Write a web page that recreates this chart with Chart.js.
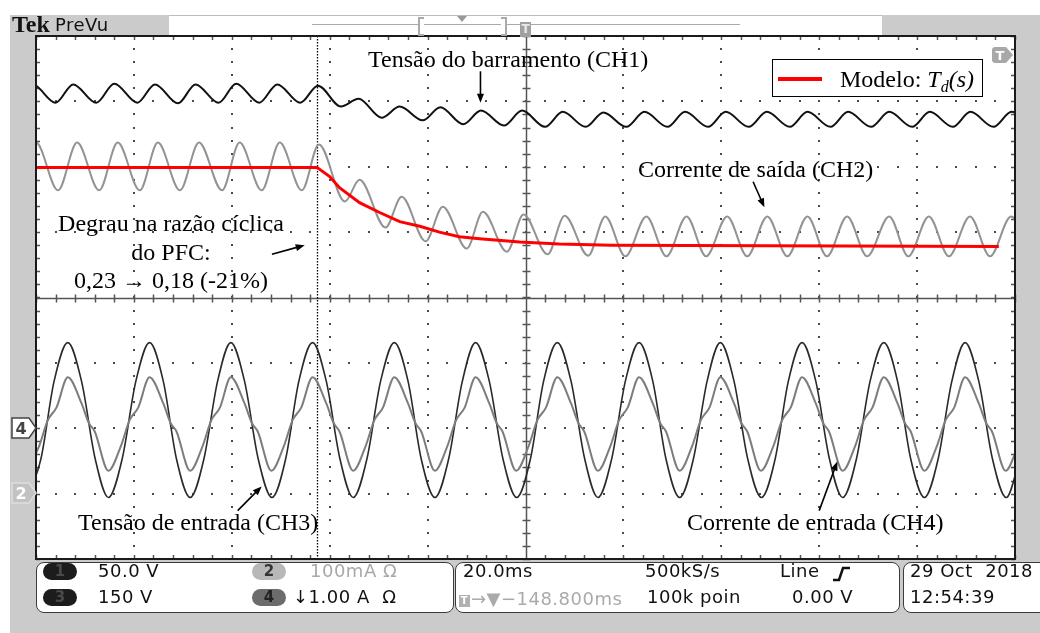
<!DOCTYPE html>
<html>
<head>
<meta charset="utf-8">
<script src="https://cdn.jsdelivr.net/npm/chart.js@4.4.1/dist/chart.umd.min.js"></script>
<style>
  html, body { margin: 0; padding: 0; background: #fff; }
  #wrap { position: relative; width: 1040px; height: 633px; overflow: hidden; background: #fff; }
  .bg { position: absolute; left: 10px; top: 15px; width: 1030px; height: 618px; background: #cbcbcb; }
  canvas { position: absolute; left: 0; top: 0; }
  .abs { position: absolute; }
  .ann { position: absolute; font-family: "Liberation Serif", "Times New Roman", serif; font-size: 24px; line-height: 24px; color: #000; white-space: nowrap; }
  .tek { position: absolute; font-family: "DejaVu Sans", sans-serif; font-size: 18px; line-height: 18px; letter-spacing: 0.5px; color: #111; white-space: nowrap; }
  .panel { position: absolute; top: 562px; height: 51px; background: #fff; border: 1.5px solid #3c3c3c; border-radius: 8px; box-sizing: border-box; }
  .oval { position: absolute; width: 34px; height: 17px; border-radius: 9px; text-align: center; font: bold 15px/17px "DejaVu Sans", sans-serif; }
  .tbox { display: inline-block; width: 11px; height: 12px; background: #b0b0b0; color: #fff; font: bold 10px/12px "DejaVu Sans", sans-serif; text-align: center; vertical-align: 1px; margin-right: 1px; }
</style>
</head>
<body>
<div id="wrap">
  <div class="bg"></div>
  <canvas id="scope" width="1040" height="633"></canvas>

  <!-- cabeçalho do osciloscópio -->
  <div class="abs" style="left:169px;top:15px;width:713px;height:20px;background:#fff;border-top:1px solid #bbb;box-sizing:border-box;"></div>
  <div class="abs" style="left:12px;top:12px;font:bold 24px/24px 'Liberation Serif',serif;color:#111;">Tek</div>
  <div class="tek" style="left:55px;top:16px;">PreVu</div>
  <div class="abs" style="left:312px;top:24px;width:428px;height:1px;background:#aaa;"></div>
  <div class="abs" style="left:418px;top:17px;width:4px;height:15px;border:2px solid #aaa;border-right:none;background:#fff;"></div>
  <div class="abs" style="left:501px;top:17px;width:4px;height:15px;border:2px solid #aaa;border-left:none;background:#fff;"></div>
  <div class="abs" style="left:457px;top:16px;width:0;height:0;border-left:5px solid transparent;border-right:5px solid transparent;border-top:6px solid #999;"></div>
  <div class="abs" style="left:520px;top:22px;width:11px;height:15px;background:#a0a0a0;color:#e8e8e8;font:bold 12px/15px 'DejaVu Sans',sans-serif;text-align:center;">T</div>

  <!-- marcadores de canal e de disparo -->
  <svg class="abs" style="left:11px;top:417px" width="27" height="23">
    <polygon points="1,1 18,1 25,11 18,21 1,21" fill="#fff" stroke="#444" stroke-width="1.5"/>
    <text x="10" y="17" text-anchor="middle" font-family="DejaVu Sans" font-weight="bold" font-size="16" fill="#444">4</text>
  </svg>
  <svg class="abs" style="left:11px;top:482px" width="27" height="23">
    <polygon points="1,1 18,1 25,11 18,21 1,21" fill="#c2c2c2" stroke="#dedede" stroke-width="1.5"/>
    <text x="10" y="17" text-anchor="middle" font-family="DejaVu Sans" font-weight="bold" font-size="16" fill="#fff">2</text>
  </svg>
  <svg class="abs" style="left:991px;top:46px" width="24" height="18">
    <polygon points="3,1 15,1 22,9 15,17 3,17 1,15 1,3" fill="#a8a8a8"/>
    <text x="9" y="14" text-anchor="middle" font-family="DejaVu Sans" font-weight="bold" font-size="13" fill="#fff">T</text>
  </svg>

  <!-- anotações -->
  <div class="ann" style="left:368px;top:47px;">Tensão do barramento (CH1)</div>
  <div class="ann" style="left:638px;top:157px;">Corrente de saída (CH2)</div>
  <div class="ann" style="left:40px;top:209px;width:262px;text-align:center;line-height:28.5px;">Degrau na razão cíclica<br>do PFC:<br>0,23 → 0,18 (-21%)</div>
  <div class="ann" style="left:78px;top:510px;">Tensão de entrada (CH3)</div>
  <div class="ann" style="left:687px;top:510px;">Corrente de entrada (CH4)</div>

  <!-- legenda -->
  <div class="abs" style="left:772px;top:59px;width:211px;height:38px;border:1.5px solid #000;background:#fff;box-sizing:border-box;"></div>
  <div class="abs" style="left:778px;top:77px;width:44px;height:4px;background:#ff0000;"></div>
  <div class="ann" style="left:840px;top:67px;">Modelo: <i>T</i><sub style="font-size:16px;font-style:italic;vertical-align:-5px;">d</sub><i>(s)</i></div>

  <!-- painéis inferiores -->
  <div class="panel" style="left:36px;width:418px;"></div>
  <div class="panel" style="left:455px;width:445px;"></div>
  <div class="panel" style="left:903px;width:170px;"></div>

  <div class="oval" style="left:43px;top:563px;background:#1c1c1c;color:#4a4a4a;">1</div>
  <div class="oval" style="left:43px;top:589px;background:#1c1c1c;color:#4a4a4a;">3</div>
  <div class="oval" style="left:252px;top:563px;background:#b8b8b8;color:#333;">2</div>
  <div class="oval" style="left:252px;top:589px;background:#6c6c6c;color:#222;">4</div>
  <div class="tek" style="left:98px;top:562px;">50.0 V</div>
  <div class="tek" style="left:98px;top:588px;">150 V</div>
  <div class="tek" style="left:310px;top:562px;color:#a8a8a8;">100mA Ω</div>
  <div class="tek" style="left:293px;top:588px;">↓1.00 A&nbsp; Ω</div>

  <div class="tek" style="left:463px;top:562px;">20.0ms</div>
  <div class="tek" style="left:645px;top:562px;">500kS/s</div>
  <div class="tek" style="left:780px;top:562px;">Line</div>
  <svg class="abs" style="left:831px;top:565px" width="22" height="18">
    <polyline points="2,15 8,15 12,3 19,3" fill="none" stroke="#111" stroke-width="2.5"/>
  </svg>
  <div class="tek" style="left:459px;top:590px;color:#aaa;"><span class="tbox">T</span>→▼−148.800ms</div>
  <div class="tek" style="left:647px;top:588px;">100k poin</div>
  <div class="tek" style="left:792px;top:588px;">0.00 V</div>

  <div class="tek" style="left:910px;top:562px;">29 Oct&nbsp; 2018</div>
  <div class="tek" style="left:910px;top:588px;">12:54:39</div>
</div>

<script>
// Eixos: tempo em ms (20 ms/div), amplitude em divisões
const gridTimes = [0, 20, 40, 60, 80, 100, 120, 140, 160, 180, 200];
const gridDivs = [-4, -3, -2, -1, 0, 1, 2, 3, 4];
const stepTime = 57.5; // instante do degrau na razão cíclica

// CH1 - tensão do barramento (picos e vales do ripple de 120 Hz)
const ch1Time = [-4.3, -0.7, 4.0, 7.6, 12.3, 16.0, 20.7, 24.3, 29.0, 32.6, 37.3, 40.9, 45.6, 49.3, 54.0,
    57.6, 62.3, 65.9, 70.6, 74.3, 79.0, 82.6, 87.3, 90.9, 95.6, 99.3, 104.0, 107.6, 112.3, 115.9, 120.6,
    124.3, 129.0, 132.6, 137.3, 140.9, 145.6, 149.3, 154.0, 157.6, 162.3, 165.9, 170.6, 174.3, 179.0,
    182.6, 187.3, 190.9, 195.6, 199.3, 204.0];
const ch1Volt = [2.98, 3.26, 2.98, 3.26, 2.98, 3.27, 2.98, 3.26, 2.97, 3.26, 2.98, 3.27, 2.98, 3.26, 2.98,
    3.24, 2.92, 3.04, 2.75, 2.92, 2.71, 2.91, 2.65, 2.86, 2.63, 2.86, 2.61, 2.84, 2.61, 2.83, 2.61,
    2.84, 2.61, 2.84, 2.61, 2.84, 2.61, 2.84, 2.61, 2.84, 2.61, 2.84, 2.61, 2.84, 2.61,
    2.84, 2.61, 2.84, 2.61, 2.84, 2.61];

// CH2 - corrente de saída
const ch2Time = [-4.0, 0.0, 4.5, 8.4, 12.9, 16.7, 21.2, 24.9, 29.4, 33.3, 38.0, 41.6, 46.1, 49.8, 54.3,
    57.8, 63.1, 66.1, 71.4, 74.7, 79.6, 83.1, 88.0, 91.3, 96.2, 99.6, 104.5, 108.0, 112.8,
    116.3, 120.4, 124.7, 128.8, 132.9, 136.9, 141.2, 145.3, 149.4, 153.5, 157.6, 161.6, 165.7, 169.8,
    174.3, 178.2, 182.4, 186.5, 190.8, 194.9, 199.2, 203.3];
const ch2Curr = [1.64, 2.37, 1.64, 2.37, 1.64, 2.37, 1.64, 2.37, 1.64, 2.37, 1.64, 2.37, 1.64, 2.37, 1.64,
    2.34, 1.47, 1.80, 1.07, 1.54, 0.86, 1.39, 0.75, 1.31, 0.70, 1.27, 0.66, 1.25, 0.64,
    1.24, 0.63, 1.24, 0.63, 1.24, 0.63, 1.24, 0.63, 1.24, 0.63, 1.24, 0.63, 1.24, 0.63,
    1.24, 0.63, 1.24, 0.63, 1.24, 0.63, 1.24, 0.63];

// Modelo Td(s)
const modelTime = [0, 57.4, 60.0, 62.0, 66.1, 70.2, 74.3, 78.4, 82.4, 86.5, 90.6, 98.8, 106.9, 117.6, 196.7];
const modelCurr = [1.99, 1.99, 1.85, 1.68, 1.45, 1.30, 1.16, 1.09, 1.00, 0.93, 0.90, 0.85, 0.82, 0.80, 0.78];

// CH3 - tensão de entrada (60 Hz)
const ch3Time = [-1.8, 1.0, 3.7, 6.5, 9.3, 12.1, 14.8, 17.6, 20.4, 23.2, 26.0, 28.7, 31.5, 34.3, 37.1,
    39.8, 42.6, 45.4, 48.2, 51.0, 53.7, 56.5, 59.3, 62.1, 64.8, 67.6, 70.4, 73.2, 76.0, 78.7,
    81.5, 84.3, 87.1, 89.8, 92.6, 95.4, 98.2, 101.0, 103.7, 106.5, 109.3, 112.1, 114.8, 117.6, 120.4,
    123.2, 126.0, 128.7, 131.5, 134.3, 137.1, 139.8, 142.6, 145.4, 148.2, 151.0, 153.7, 156.5, 159.3,
    162.1, 164.8, 167.6, 170.4, 173.2, 176.0, 178.7, 181.5, 184.3, 187.1, 189.8, 192.6, 195.4, 198.2, 201.0];
const ch3Volt = [-3.06, -2.47, -1.28, -0.69, -1.28, -2.47, -3.06, -2.47, -1.28, -0.69, -1.28, -2.47, -3.06, -2.47, -1.28,
    -0.69, -1.28, -2.47, -3.06, -2.47, -1.28, -0.69, -1.28, -2.47, -3.06, -2.47, -1.28, -0.69, -1.28, -2.47,
    -3.06, -2.47, -1.28, -0.69, -1.28, -2.47, -3.06, -2.47, -1.28, -0.69, -1.28, -2.47, -3.06, -2.47, -1.28,
    -0.69, -1.28, -2.47, -3.06, -2.47, -1.28, -0.69, -1.28, -2.47, -3.06, -2.47, -1.28, -0.69, -1.28,
    -2.47, -3.06, -2.47, -1.28, -0.69, -1.28, -2.47, -3.06, -2.47, -1.28, -0.69, -1.28, -2.47, -3.06, -2.47];

// CH4 - corrente de entrada
const ch4Time = [-1.9, 0.6, 2.4, 4.2,
    6.5, 9.3, 10.8, 12.0, 14.8, 17.3, 19.1, 20.9,
    23.2, 26.0, 27.5, 28.7, 31.5, 34.0, 35.8, 37.6,
    39.8, 42.6, 44.1, 45.3, 48.1, 50.6, 52.4, 54.2,
    56.5, 59.3, 60.8, 62.0, 64.8, 67.3, 69.1, 70.9,
    73.2, 76.0, 77.5, 78.7, 81.5, 84.0, 85.8, 87.6,
    89.8, 92.6, 94.1, 95.3, 98.1, 100.6, 102.4, 104.2,
    106.5, 109.3, 110.8, 112.0, 114.8, 117.3, 119.1, 120.9,
    123.2, 126.0, 127.5, 128.7, 131.5, 134.0, 135.8, 137.6,
    139.8, 142.6, 144.1, 145.3, 148.1, 150.6, 152.4, 154.2,
    156.5, 159.3, 160.8, 162.0, 164.8, 167.3, 169.1, 170.9,
    173.2, 176.0, 177.5, 178.7, 181.5, 184.0, 185.8, 187.6,
    189.8, 192.6, 194.1, 195.3, 198.1, 200.6];
const ch4Curr = [-2.65, -2.28, -1.88, -1.68,
    -1.22, -1.62, -1.92, -2.05, -2.65, -2.28, -1.88, -1.68,
    -1.22, -1.62, -1.92, -2.05, -2.65, -2.28, -1.88, -1.68,
    -1.22, -1.62, -1.92, -2.05, -2.65, -2.28, -1.88, -1.68,
    -1.22, -1.62, -1.92, -2.05, -2.65, -2.28, -1.88, -1.68,
    -1.22, -1.62, -1.92, -2.05, -2.65, -2.28, -1.88, -1.68,
    -1.22, -1.62, -1.92, -2.05, -2.65, -2.28, -1.88, -1.68,
    -1.22, -1.62, -1.92, -2.05, -2.65, -2.28, -1.88, -1.68,
    -1.22, -1.62, -1.92, -2.05, -2.65, -2.28, -1.88, -1.68,
    -1.22, -1.62, -1.92, -2.05, -2.65, -2.28, -1.88, -1.68,
    -1.22, -1.62, -1.92, -2.05, -2.65, -2.28, -1.88, -1.68,
    -1.22, -1.62, -1.92, -2.05, -2.65, -2.28, -1.88, -1.68,
    -1.22, -1.62, -1.92, -2.05, -2.65, -2.28];

// Setas das anotações: [t0, v0, t1, v1] (ponta em t1, v1)
const arrows = [
    [90.8, 3.46, 90.8, 2.98],
    [146.5, 1.77, 148.8, 1.38],
    [48.2, 0.66, 54.9, 0.80],
    [41.2, -3.26, 46.1, -2.89],
    [160.0, -3.26, 163.7, -2.51]
];

const pts = (ts, vs) => ts.map((t, i) => ({ x: t, y: vs[i] }));

function drawArrow(ctx, x0, y0, x1, y1) {
    const ang = Math.atan2(y1 - y0, x1 - x0);
    const head = 9, half = 3.5;
    ctx.beginPath();
    ctx.moveTo(x0, y0);
    ctx.lineTo(x1 - Math.cos(ang) * head * 0.7, y1 - Math.sin(ang) * head * 0.7);
    ctx.stroke();
    ctx.beginPath();
    ctx.moveTo(x1, y1);
    ctx.lineTo(x1 - head * Math.cos(ang) + half * Math.sin(ang), y1 - head * Math.sin(ang) - half * Math.cos(ang));
    ctx.lineTo(x1 - head * Math.cos(ang) - half * Math.sin(ang), y1 - head * Math.sin(ang) + half * Math.cos(ang));
    ctx.closePath();
    ctx.fill();
}

// Grade estilo Tektronix (pontos, cruz central com marcas, moldura)
const scopeGrid = {
    id: 'scopeGrid',
    beforeDatasetsDraw(chart) {
        const { ctx, chartArea: a, scales: { x, y } } = chart;
        ctx.save();
        ctx.fillStyle = '#fff';
        ctx.fillRect(a.left, a.top, a.right - a.left, a.bottom - a.top);

        const minorX = [], minorY = [];
        for (let t = 0; t <= 200.001; t += 4) minorX.push(Math.round(x.getPixelForValue(t)));
        for (let v = -4; v <= 4.001; v += 0.2) minorY.push(Math.round(y.getPixelForValue(v)));

        ctx.fillStyle = '#4a4a4a';
        gridTimes.forEach(t => {
            if (t === 0 || t === 200 || t === 100) return;
            const px = Math.round(x.getPixelForValue(t));
            minorY.forEach(py => ctx.fillRect(px - 1, py - 1, 2, 2));
        });
        gridDivs.forEach(v => {
            if (v === -4 || v === 4 || v === 0) return;
            const py = Math.round(y.getPixelForValue(v));
            minorX.forEach(px => ctx.fillRect(px - 1, py - 1, 2, 2));
        });

        // cruz central
        const cx = Math.round(x.getPixelForValue(100)) + 0.5;
        const cy = Math.round(y.getPixelForValue(0)) + 0.5;
        ctx.strokeStyle = '#555';
        ctx.lineWidth = 1.5;
        ctx.beginPath();
        ctx.moveTo(a.left, cy); ctx.lineTo(a.right, cy);
        ctx.moveTo(cx, a.top); ctx.lineTo(cx, a.bottom);
        minorX.forEach(px => { ctx.moveTo(px + 0.5, cy - 4); ctx.lineTo(px + 0.5, cy + 4); });
        minorY.forEach(py => { ctx.moveTo(cx - 4, py + 0.5); ctx.lineTo(cx + 4, py + 0.5); });
        // marcas na moldura
        minorX.forEach(px => {
            ctx.moveTo(px + 0.5, a.top); ctx.lineTo(px + 0.5, a.top + 4);
            ctx.moveTo(px + 0.5, a.bottom); ctx.lineTo(px + 0.5, a.bottom - 4);
        });
        minorY.forEach(py => {
            ctx.moveTo(a.left, py + 0.5); ctx.lineTo(a.left + 4, py + 0.5);
            ctx.moveTo(a.right, py + 0.5); ctx.lineTo(a.right - 4, py + 0.5);
        });
        ctx.stroke();

        // linha pontilhada do degrau
        const sx = Math.round(x.getPixelForValue(stepTime)) + 0.5;
        ctx.strokeStyle = '#000';
        ctx.lineWidth = 1.3;
        ctx.setLineDash([1.5, 1.5]);
        ctx.beginPath();
        ctx.moveTo(sx, a.top); ctx.lineTo(sx, a.bottom);
        ctx.stroke();
        ctx.restore();
    },
    afterDatasetsDraw(chart) {
        const { ctx, scales: { x, y } } = chart;
        ctx.save();
        ctx.strokeStyle = '#000';
        ctx.fillStyle = '#000';
        ctx.lineWidth = 1.6;
        arrows.forEach(([t0, v0, t1, v1]) => {
            drawArrow(ctx, x.getPixelForValue(t0), y.getPixelForValue(v0),
                x.getPixelForValue(t1), y.getPixelForValue(v1));
        });
        ctx.restore();
    },
    afterDraw(chart) {
        const { ctx, chartArea: a } = chart;
        ctx.save();
        ctx.strokeStyle = '#1a1a1a';
        ctx.lineWidth = 2;
        ctx.strokeRect(a.left, a.top, a.right - a.left, a.bottom - a.top);
        ctx.restore();
    }
};

const scope = document.getElementById('scope');
if (scope) {
    new Chart(scope, {
        type: 'line',
        data: {
            datasets: [
                {
                    label: 'Modelo: Td(s)',
                    data: pts(modelTime, modelCurr),
                    borderColor: '#ff0000',
                    borderWidth: 3,
                    tension: 0,
                    clip: 0
                },
                {
                    label: 'Corrente de saída (CH2)',
                    data: pts(ch2Time, ch2Curr),
                    borderColor: '#939393',
                    borderWidth: 2,
                    cubicInterpolationMode: 'monotone',
                    clip: 0
                },
                {
                    label: 'Tensão do barramento (CH1)',
                    data: pts(ch1Time, ch1Volt),
                    borderColor: '#111',
                    borderWidth: 2,
                    cubicInterpolationMode: 'monotone',
                    clip: 0
                },
                {
                    label: 'Corrente de entrada (CH4)',
                    data: pts(ch4Time, ch4Curr),
                    borderColor: '#7d7d7d',
                    borderWidth: 2,
                    cubicInterpolationMode: 'monotone',
                    clip: 0
                },
                {
                    label: 'Tensão de entrada (CH3)',
                    data: pts(ch3Time, ch3Volt),
                    borderColor: '#2a2a2a',
                    borderWidth: 1.6,
                    cubicInterpolationMode: 'monotone',
                    clip: 0
                }
            ]
        },
        options: {
            responsive: false,
            animation: false,
            layout: { padding: { left: 36, top: 36, right: 25, bottom: 74 } },
            elements: { point: { radius: 0 } },
            plugins: {
                legend: { display: false },
                tooltip: { enabled: false }
            },
            scales: {
                x: { type: 'linear', min: 0, max: 200, display: false },
                y: { type: 'linear', min: -4, max: 4, display: false }
            }
        },
        plugins: [scopeGrid]
    });
}
</script>
</body>
</html>
